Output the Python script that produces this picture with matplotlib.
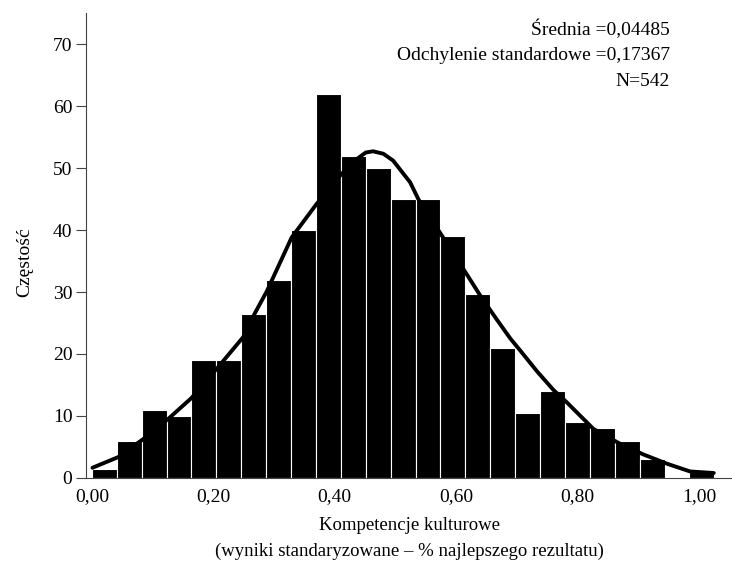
import matplotlib
matplotlib.use('Agg')
import matplotlib.pyplot as plt
import numpy as np

# --- dane ---
BIN_WIDTH = 0.041
bin_left = np.arange(25) * BIN_WIDTH
counts = [1.5, 6, 11, 10, 19, 19, 26.5, 32, 40, 62, 52, 50, 45, 45, 39, 29.6,
          21, 10.5, 14, 9, 8, 6, 3, 0, 1.2]

# krzywa normalna (punkty)
curve_x = [0.001, 0.043, 0.085, 0.126, 0.164, 0.208, 0.249, 0.268, 0.288, 0.329,
           0.370, 0.409, 0.430, 0.451, 0.463, 0.480, 0.496, 0.524, 0.538, 0.573,
           0.617, 0.639, 0.665, 0.689, 0.705, 0.733, 0.760, 0.782, 0.826, 0.870,
           0.908, 0.947, 0.985, 1.024]
curve_y = [1.65, 3.35, 6.3, 9.55, 12.9, 17.9, 22.7, 26.5, 30.1, 38.8,
           44.2, 48.8, 51.0, 52.5, 52.7, 52.3, 51.2, 47.7, 44.9, 39.6,
           32.9, 29.5, 25.8, 22.5, 20.6, 17.2, 14.2, 12.2, 7.9, 5.5,
           3.8, 2.3, 1.05, 0.8]

x_ticks = [0.0, 0.2, 0.4, 0.6, 0.8, 1.0]
x_ticklabels = ['0,00', '0,20', '0,40', '0,60', '0,80', '1,00']
y_ticks = [0, 10, 20, 30, 40, 50, 60, 70]

stats_lines = ['Średnia =0,04485', 'Odchylenie standardowe =0,17367', 'N=542']

plt.rcParams['font.family'] = ['Liberation Serif', 'DejaVu Serif']

fig = plt.figure(figsize=(7.32, 5.67), dpi=100)
ax = fig.add_axes([0.118, 0.157, 0.882, 0.820])

ax.bar(bin_left, counts, width=BIN_WIDTH, align='edge', color='black',
       edgecolor='white', linewidth=0.8, zorder=2)
ax.plot(curve_x, curve_y, color='black', linewidth=2.8, solid_capstyle='round',
        solid_joinstyle='round', zorder=3)

ax.set_xlim(-0.009, 1.054)
ax.set_ylim(0, 75)

ax.spines['top'].set_visible(False)
ax.spines['right'].set_visible(False)
for side in ['left', 'bottom']:
    ax.spines[side].set_color('#444444')
    ax.spines[side].set_linewidth(0.8)

ax.set_yticks(y_ticks)
ax.set_xticks(x_ticks)
ax.set_xticklabels(x_ticklabels)
ax.tick_params(axis='y', length=7, width=0.8, color='#444444', labelsize=14, pad=3)
ax.tick_params(axis='x', length=0, labelsize=14, pad=7)

ax.set_ylabel('Częstość', fontsize=14)
ax.yaxis.set_label_coords(-0.083, 0.465)
ax.set_xlabel('Kompetencje kulturowe\n(wyniki standaryzowane – % najlepszego rezultatu)',
              fontsize=13.5, labelpad=9, linespacing=1.67)

for i, line in enumerate(stats_lines):
    fig.text(670 / 732, 1 - (29 + 26.5 * i) / 567, line, ha='right', va='center',
             fontsize=14)

plt.savefig('out.png', dpi=100)
plt.close()
